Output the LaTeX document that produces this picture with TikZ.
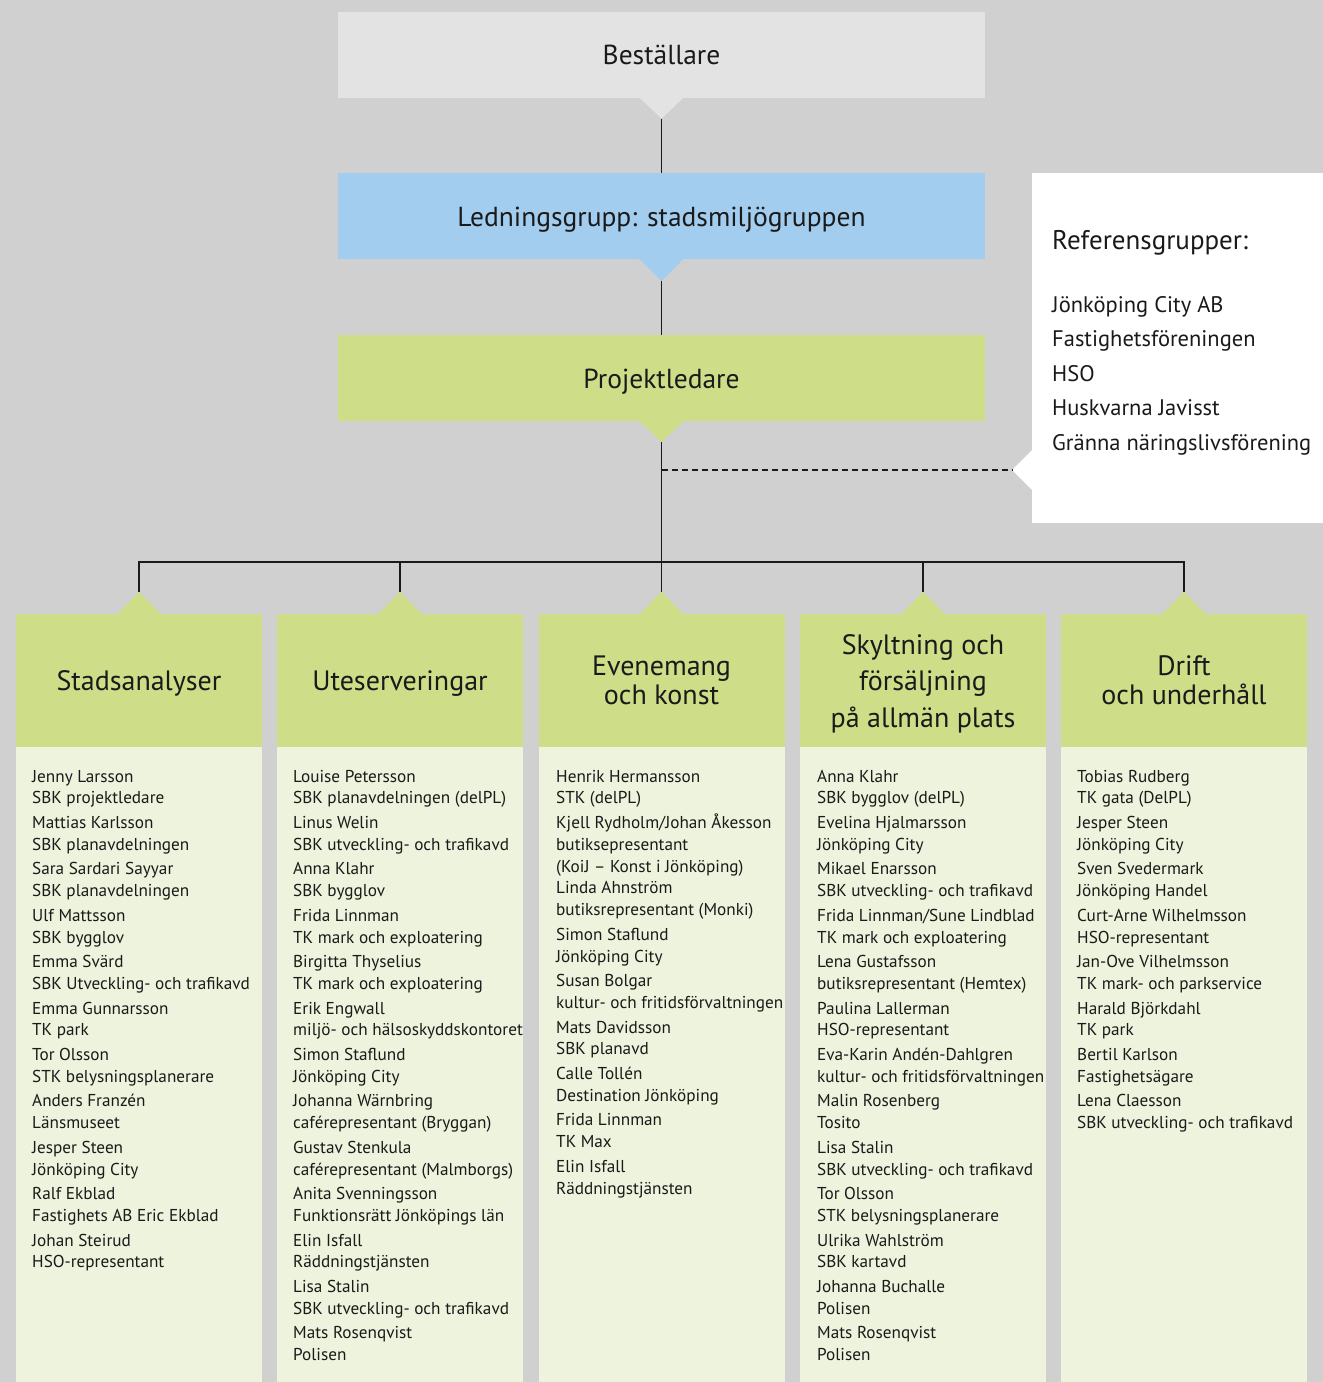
\documentclass[tikz,border=0pt]{standalone}
\usepackage{fontspec}
\setmainfont{PT Sans}
\usetikzlibrary{calc}
\definecolor{bgc}{RGB}{208,208,209}
\definecolor{greyc}{RGB}{227,227,227}
\definecolor{bluec}{RGB}{163,205,239}
\definecolor{greenc}{RGB}{206,221,136}
\definecolor{lightg}{RGB}{237,243,220}
\definecolor{ink}{RGB}{26,26,26}
\tikzset{
  topbox/.style={rectangle, inner sep=0pt, minimum width=647pt, minimum height=86pt, text=ink,
     font=\fontsize{27.5}{32}\selectfont, text height=20pt, text depth=0pt},
  hdrbox/.style={rectangle, inner sep=0pt, fill=greenc, minimum width=246pt, minimum height=133pt,
     text=ink, align=center},
  lstbox/.style={rectangle, inner sep=0pt, fill=lightg, minimum width=246pt, minimum height=640pt},
  lsttext/.style={inner sep=0pt, anchor=base west, text=ink},
  conn/.style={draw=ink, line width=1.2pt},
}
\newcommand{\lst}[1]{\parbox[t]{400pt}{\raggedright\fontsize{17.2}{21.8}\selectfont #1}}
\newcommand{\gap}{\\[2.8pt]}
\begin{document}
\begin{tikzpicture}[x=1pt,y=-1pt]
\useasboundingbox (0,0) rectangle (1323,1382);
\fill[bgc] (0,0) rectangle (1323,1382);

% top boxes
\node[topbox, fill=greyc] (best) at (661.5,54.5) {Beställare};
\node[topbox, fill=bluec] (led) at (661.5,216) {Ledningsgrupp: stadsmiljögruppen};
\node[topbox, fill=greenc] (proj) at (661.5,378) {Projektledare};

\fill[greyc] ($(best.south)+(-22,0)$) -- ($(best.south)+(0,21)$) -- ($(best.south)+(22,0)$) -- cycle;
\coordinate (bestTip) at ($(best.south)+(0,21)$);
\fill[bluec] ($(led.south)+(-22,0)$) -- ($(led.south)+(0,22)$) -- ($(led.south)+(22,0)$) -- cycle;
\coordinate (ledTip) at ($(led.south)+(0,22)$);
\fill[greenc] ($(proj.south)+(-22,0)$) -- ($(proj.south)+(0,21)$) -- ($(proj.south)+(22,0)$) -- cycle;
\coordinate (projTip) at ($(proj.south)+(0,21)$);

\draw[conn] (bestTip) -- (led.north);
\draw[conn] (ledTip) -- (proj.north);

% reference group box
\node[rectangle, fill=white, inner sep=0pt, minimum width=291pt, minimum height=350pt] (ref) at (1177.5,348) {};
\fill[white] (1033,449) -- (1012,470) -- (1033,491) -- cycle;
\coordinate (refTip) at (1012,470);
\node[inner sep=0pt, anchor=base west, text=ink, font=\fontsize{27}{30}\selectfont] (refhead) at (1052,249) {Referensgrupper:};
\node[inner sep=0pt, anchor=base west, text=ink] (reflist) at (1052,312) {\parbox[t]{300pt}{\raggedright\fontsize{22.5}{34.5}\selectfont
Jönköping City AB\\
Fastighetsföreningen\\
HSO\\
Huskvarna Javisst\\
Gränna näringslivsförening}};

% columns
\foreach \i/\L in {1/16,2/277,3/539,4/800,5/1061}{
  \node[lstbox] (lst\i) at (\L+123,1067) {};
}
\node[hdrbox, font=\fontsize{28}{29}\selectfont, text height=20pt, text depth=0pt] (h1) at (139,680.5) {Stadsanalyser};
\node[hdrbox, font=\fontsize{28}{29}\selectfont, text height=20pt, text depth=0pt] (h2) at (400,680.5) {Uteserveringar};
\node[hdrbox, font=\fontsize{28}{29}\selectfont] (h3) at (661.5,680.5) {Evenemang\\och konst};
\node[hdrbox, font=\fontsize{28}{36.5}\selectfont] (h4) at (923,680.5) {\rule{0pt}{26pt}Skyltning och\\försäljning\\på allmän plats};
\node[hdrbox, font=\fontsize{28}{29}\selectfont] (h5) at (1184,680.5) {Drift\\och underhåll};

\foreach \i in {1,...,5}{
  \fill[greenc] ($(h\i.north)+(-22,0.5)$) -- ($(h\i.north)+(0,-22)$) -- ($(h\i.north)+(22,0.5)$) -- cycle;
  \coordinate (t\i) at ($(h\i.north)+(0,-22)$);
}

% connectors
\coordinate (bus) at (0,562);
\draw[conn] (projTip) -- (projTip |- bus);
\draw[conn] (t1) -- (t1 |- bus) -- (t5 |- bus) -- (t5);
\draw[conn] (t2) -- (t2 |- bus);
\draw[conn] (t3) -- (t3 |- bus);
\draw[conn] (t4) -- (t4 |- bus);
\draw[draw=ink, line width=1.2pt, dash pattern=on 6pt off 4pt] (projTip |- refTip) -- (refTip);

% list texts
\node[lsttext] (c1) at (32,782) {\lst{%
Jenny Larsson\\SBK projektledare\gap
Mattias Karlsson\\SBK planavdelningen\gap
Sara Sardari Sayyar\\SBK planavdelningen\gap
Ulf Mattsson\\SBK bygglov\gap
Emma Svärd\\SBK Utveckling- och trafikavd\gap
Emma Gunnarsson\\TK park\gap
Tor Olsson\\STK belysningsplanerare\gap
Anders Franzén\\Länsmuseet\gap
Jesper Steen\\Jönköping City\gap
Ralf Ekblad\\Fastighets AB Eric Ekblad\gap
Johan Steirud\\HSO-representant}};

\node[lsttext] (c2) at (293,782) {\lst{%
Louise Petersson\\SBK planavdelningen (delPL)\gap
Linus Welin\\SBK utveckling- och trafikavd\gap
Anna Klahr\\SBK bygglov\gap
Frida Linnman\\TK mark och exploatering\gap
Birgitta Thyselius\\TK mark och exploatering\gap
Erik Engwall\\miljö- och hälsoskyddskontoret\gap
Simon Staflund\\Jönköping City\gap
Johanna Wärnbring\\caférepresentant (Bryggan)\gap
Gustav Stenkula\\caférepresentant (Malmborgs)\gap
Anita Svenningsson\\Funktionsrätt Jönköpings län\gap
Elin Isfall\\Räddningstjänsten\gap
Lisa Stalin\\SBK utveckling- och trafikavd\gap
Mats Rosenqvist\\Polisen}};

\node[lsttext] (c3) at (556,782) {\lst{%
Henrik Hermansson\\STK (delPL)\gap
Kjell Rydholm/Johan Åkesson\\butiksepresentant\\(KoiJ – Konst i Jönköping)\\
Linda Ahnström\\butiksrepresentant (Monki)\gap
Simon Staflund\\Jönköping City\gap
Susan Bolgar\\kultur- och fritidsförvaltningen\gap
Mats Davidsson\\SBK planavd\gap
Calle Tollén\\Destination Jönköping\gap
Frida Linnman\\TK Max\gap
Elin Isfall\\Räddningstjänsten}};

\node[lsttext] (c4) at (817,782) {\lst{%
Anna Klahr\\SBK bygglov (delPL)\gap
Evelina Hjalmarsson\\Jönköping City\gap
Mikael Enarsson\\SBK utveckling- och trafikavd\gap
Frida Linnman/Sune Lindblad\\TK mark och exploatering\gap
Lena Gustafsson\\butiksrepresentant (Hemtex)\gap
Paulina Lallerman\\HSO-representant\gap
Eva-Karin Andén-Dahlgren\\kultur- och fritidsförvaltningen\gap
Malin Rosenberg\\Tosito\gap
Lisa Stalin\\SBK utveckling- och trafikavd\gap
Tor Olsson\\STK belysningsplanerare\gap
Ulrika Wahlström\\SBK kartavd\gap
Johanna Buchalle\\Polisen\gap
Mats Rosenqvist\\Polisen}};

\node[lsttext] (c5) at (1077,782) {\lst{%
Tobias Rudberg\\TK gata (DelPL)\gap
Jesper Steen\\Jönköping City\gap
Sven Svedermark\\Jönköping Handel\gap
Curt-Arne Wilhelmsson\\HSO-representant\gap
Jan-Ove Vilhelmsson\\TK mark- och parkservice\gap
Harald Björkdahl\\TK park\gap
Bertil Karlson\\Fastighetsägare\gap
Lena Claesson\\SBK utveckling- och trafikavd}};
\end{tikzpicture}
\end{document}
